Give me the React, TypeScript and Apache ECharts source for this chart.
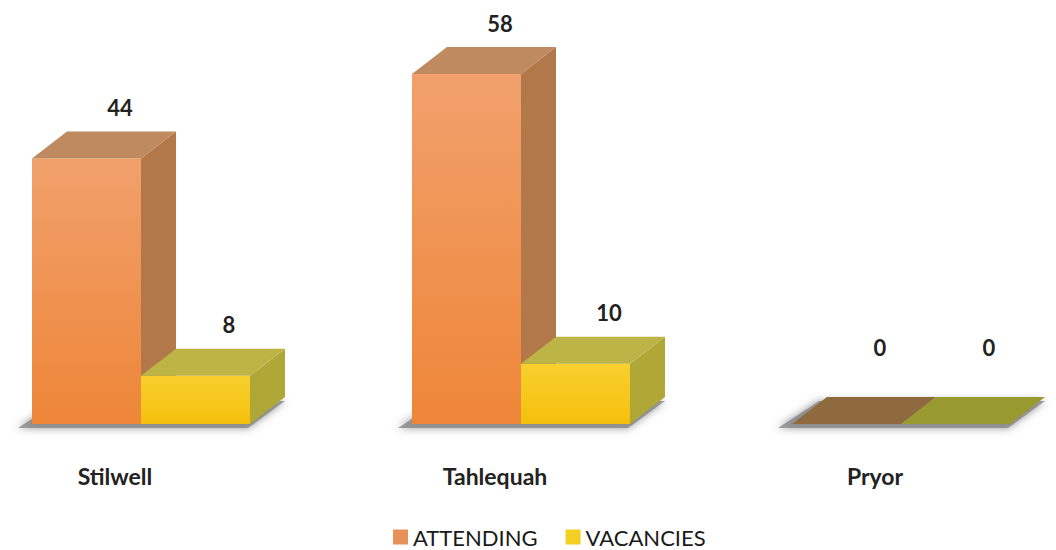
import React, { useEffect, useRef } from "react";
import * as echarts from "echarts";

const categories = ["Stilwell", "Tahlequah", "Pryor"];
const attending = [44, 58, 0];
const vacancies = [8, 10, 0];
const seriesNames = ["ATTENDING", "VACANCIES"];

const FONT = "Lato, 'Open Sans', sans-serif";
const BAR_W = 109;
const DX = 35;
const DY = -27;
const FRONT_OFFSET = -83;

const faces = [
  {
    front: ["#F1A06C", "#EE8638"],
    side: "#B27849",
    top: "#BF8A5F",
    legend: "#E8905A",
  },
  {
    front: ["#F8D02E", "#F5C00C"],
    side: "#AFA836",
    top: "#BDB446",
    legend: "#F3CF22",
  },
];

function makeBarRender(si: number) {
  return (params: any, api: any) => {
    const idx = api.value(0);
    const v = api.value(1);
    const top = api.coord([idx, v]);
    const base = api.coord([idx, 0]);
    const fl = top[0] + FRONT_OFFSET + si * BAR_W;
    const yv = top[1];
    const y0 = base[1];
    const f = faces[si];
    const children: any[] = [];
    if (y0 - yv > 0.5) {
      children.push({
        type: "rect",
        shape: { x: fl, y: yv, width: BAR_W, height: y0 - yv },
        style: {
          fill: new echarts.graphic.LinearGradient(0, 0, 0, 1, [
            { offset: 0, color: f.front[0] },
            { offset: 1, color: f.front[1] },
          ]),
        },
      });
      children.push({
        type: "polygon",
        shape: {
          points: [
            [fl + BAR_W, yv],
            [fl + BAR_W + DX, yv + DY],
            [fl + BAR_W + DX, y0 + DY],
            [fl + BAR_W, y0],
          ],
        },
        style: { fill: f.side },
      });
    }
    children.push({
      type: "polygon",
      shape: {
        points: [
          [fl, yv],
          [fl + DX, yv + DY],
          [fl + BAR_W + DX, yv + DY],
          [fl + BAR_W, yv],
        ],
      },
      style: { fill: v === 0 ? (si === 0 ? "#8E6A3E" : "#98992E") : f.top },
    });
    const labelY = Math.min(yv + DY - 24, y0 - 77);
    children.push({
      type: "text",
      style: {
        text: String(v),
        x: fl + 88,
        y: labelY,
        align: "center",
        verticalAlign: "middle",
        fontFamily: FONT,
        fontWeight: "bold",
        fontSize: 22,
        fill: "#222222",
      },
    });
    return { type: "group", children };
  };
}

function shadowRender(params: any, api: any) {
  const idx = api.value(0);
  const base = api.coord([idx, 0]);
  const fl = base[0] + FRONT_OFFSET - 14;
  const y0 = base[1] + 4;
  const w = BAR_W * 2 + 4;
  return {
    type: "polygon",
    shape: {
      points: [
        [fl, y0],
        [fl + DX + 6, y0 + DY],
        [fl + w + DX + 10, y0 + DY],
        [fl + w + 8, y0],
      ],
    },
    style: {
      fill: "rgba(135,135,135,0.8)",
      shadowBlur: 8,
      shadowColor: "rgba(110,110,110,0.9)",
    },
  };
}

export default function App() {
  const ref = useRef<HTMLDivElement>(null);
  useEffect(() => {
    if (!ref.current) return;
    const chart = echarts.init(ref.current, null, { renderer: "svg" });
    chart.setOption({
      animation: false,
      backgroundColor: "#ffffff",
      grid: { left: 115, right: 181, top: 62, bottom: 126, containLabel: false },
      legend: {
        top: 521,
        left: 388,
        data: seriesNames,
        icon: "rect",
        itemWidth: 15,
        itemHeight: 15,
        itemGap: 28,
        textStyle: { fontFamily: FONT, fontSize: 22, color: "#1a1a1a" },
      },
      xAxis: {
        type: "category",
        boundaryGap: false,
        data: categories,
        axisLine: { show: false },
        axisTick: { show: false },
        axisLabel: {
          margin: 40,
          fontFamily: FONT,
          fontWeight: "bold",
          fontSize: 23,
          color: "#222222",
        },
      },
      yAxis: {
        type: "value",
        min: 0,
        max: 60,
        show: false,
        splitLine: { show: false },
      },
      series: [
        {
          type: "custom",
          name: "shadow",
          z: 1,
          silent: true,
          renderItem: shadowRender,
          data: categories.map((_, i) => [i, 0]),
        },
        {
          type: "custom",
          name: seriesNames[0],
          z: 2,
          itemStyle: { color: faces[0].legend },
          renderItem: makeBarRender(0),
          data: attending.map((v, i) => [i, v]),
        },
        {
          type: "custom",
          name: seriesNames[1],
          z: 3,
          itemStyle: { color: faces[1].legend },
          renderItem: makeBarRender(1),
          data: vacancies.map((v, i) => [i, v]),
        },
      ],
    });
    return () => chart.dispose();
  }, []);
  return (
    <div
      ref={ref}
      style={{ position: "fixed", left: 0, top: 0, width: 1056, height: 550 }}
    />
  );
}
